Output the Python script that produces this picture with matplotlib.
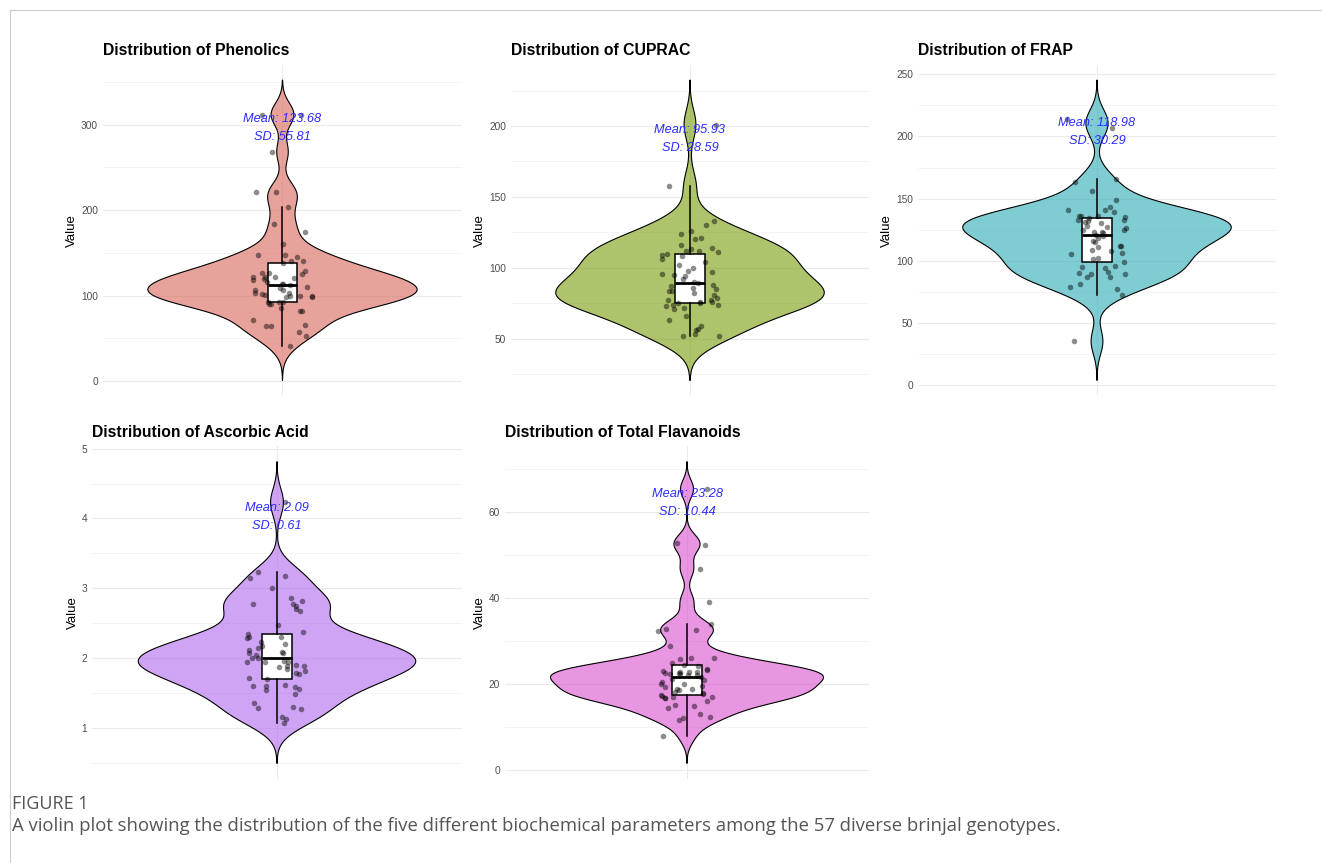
import numpy as np
import matplotlib
matplotlib.use('Agg')
import matplotlib.pyplot as plt
from matplotlib.ticker import MultipleLocator
from matplotlib.colors import to_rgba
from matplotlib.lines import Line2D

plt.rcParams['font.family'] = ['Liberation Sans', 'DejaVu Sans']

# values (57 genotypes per trait)
phenolics = [41, 53, 57, 64, 64, 66, 71, 82, 82, 85, 90, 90, 92, 92, 93, 98, 98, 99, 99, 99,
             101, 102, 103, 103, 106, 107, 109, 110, 112, 113, 114, 116, 118, 120, 121, 122, 122, 122, 125, 127,
             127, 129, 138, 140, 141, 145, 147, 147, 160, 175, 184, 204, 221, 221, 268, 312, 312]
cuprac = [52, 52, 53, 56, 57, 59, 63, 66, 71, 72, 73, 74, 74, 75, 75, 76, 76, 77, 77, 79,
          81, 82, 84, 84, 85, 86, 87, 88, 89, 90, 92, 94, 95, 96, 97, 98, 100, 102, 104, 106,
          108, 109, 110, 111, 112, 112, 113, 114, 116, 120, 121, 124, 126, 130, 133, 158, 201]
frap = [214, 207, 166, 163, 156, 149, 141, 141, 139, 136, 143, 136, 136, 134, 133, 132, 133, 130, 128, 125,
        125, 123, 126, 118, 111, 112, 108, 123, 116, 112, 109, 106, 105, 101, 102, 99, 95, 96, 91, 87,
        94, 89, 87, 89, 90, 79, 81, 72, 77, 35, 120, 121, 122, 127, 131, 135, 115]
ascorbic = [4.23, 3.17, 3.23, 3.15, 3.01, 2.77, 2.75, 2.86, 2.77, 2.82, 2.71, 2.68, 2.47, 2.38, 2.30, 2.35,
            2.29, 2.17, 2.24, 2.15, 2.31, 2.12, 2.08, 2.04, 1.95, 1.94, 1.94, 1.89, 1.88, 1.90, 1.89, 1.96,
            2.01, 2.09, 2.08, 1.79, 1.82, 1.78, 1.72, 1.70, 1.61, 1.61, 1.62, 1.59, 1.54, 1.56, 1.49, 1.36,
            1.30, 1.27, 1.29, 1.16, 1.13, 1.08, 2.00, 1.85, 2.20]
flavanoids = [65.3, 52.3, 52.8, 46.7, 39.1, 33.8, 32.6, 32.2, 32.4, 28.7, 26.0, 25.9, 25.8, 24.8, 24.4,
              22.6, 22.9, 22.3, 22.5, 22.1, 23.1, 22.7, 22.5, 22.6, 22.3, 21.0, 18.8, 19.8, 20.4, 19.4,
              18.7, 18.1, 17.3, 17.9, 19.2, 16.7, 16.7, 17.1, 16.9, 16.9, 15.1, 15.9, 14.8, 14.4, 11.9,
              12.2, 11.5, 13.0, 7.8, 21.5, 20.8, 23.5, 24.0, 18.5, 20.0, 22.0, 17.5]

traits = ['Phenolics', 'CUPRAC', 'FRAP', 'Ascorbic Acid', 'Total Flavanoids']
means = [123.68, 95.93, 118.98, 2.09, 23.28]
sds = [55.81, 28.59, 30.29, 0.61, 10.44]
tick_step = [100, 50, 50, 1, 20]
fills = ['#DA645A', '#789D0A', '#2AACB6', '#B167ED', '#D94ED0']
all_vals = [phenolics, cuprac, frap, ascorbic, flavanoids]

# axes boxes in pixels: left, top, right, bottom
W, H = 1322, 863
boxes = [(103, 65, 462, 395.5), (511, 65, 869, 395.5), (918, 65, 1276, 395.5),
         (92, 446.5, 462, 778.5), (505, 446.5, 869, 778.5)]

fig = plt.figure(figsize=(W / 100, H / 100), dpi=100)
rng = np.random.default_rng(7)

for i in range(5):
    v = np.array(all_vals[i], dtype=float)
    l, t, r, b = boxes[i]
    ax = fig.add_axes([l / W, 1 - b / H, (r - l) / W, (b - t) / H])

    # gaussian kde with R's bw.nrd0, not trimmed (3 bw beyond data)
    q1, q3 = np.percentile(v, [25, 75])
    bw = 0.9 * min(v.std(ddof=1), (q3 - q1) / 1.34) * len(v) ** -0.2
    y = np.linspace(v.min() - 3 * bw, v.max() + 3 * bw, 512)
    dens = np.exp(-0.5 * ((y[:, None] - v[None, :]) / bw) ** 2).sum(axis=1)
    w = dens / dens.max() * 0.45
    xs = np.concatenate([1 - w, (1 + w)[::-1]])
    ys = np.concatenate([y, y[::-1]])
    ax.fill(xs, ys, facecolor=to_rgba(fills[i], 0.6), edgecolor='black', lw=0.8, zorder=2)

    ax.boxplot([v], positions=[1], widths=0.1, patch_artist=True, showfliers=False, showcaps=False,
               boxprops=dict(facecolor='white', edgecolor='black', lw=1.1),
               medianprops=dict(color='black', lw=2.0),
               whiskerprops=dict(color='black', lw=1.1), zorder=3)

    jx = 1 + rng.uniform(-0.1, 0.1, len(v))
    ax.scatter(jx, v, s=16, color='black', alpha=0.45, lw=0, zorder=4)

    ax.text(1, v.max() * 0.95, 'Mean: %.2f\nSD: %.2f' % (means[i], sds[i]), color='#2c2cff',
            style='italic', fontsize=9.2, ha='center', va='center', linespacing=1.65, zorder=5)

    span = y[-1] - y[0]
    ax.set_ylim(y[0] - 0.05 * span, y[-1] + 0.05 * span)
    ax.set_xlim(0.4, 1.6)
    ax.set_xticks([1])
    ax.set_xticklabels([''])
    ax.yaxis.set_major_locator(MultipleLocator(tick_step[i]))
    ax.yaxis.set_minor_locator(MultipleLocator(tick_step[i] / 2))
    ax.grid(which='major', color='#EBEBEB', lw=0.8)
    ax.grid(which='minor', axis='y', color='#F2F2F2', lw=0.6)
    ax.set_axisbelow(True)
    for s in ax.spines.values():
        s.set_visible(False)
    ax.tick_params(which='both', length=0, labelsize=7.3, labelcolor='#4D4D4D', pad=3.6)
    ax.set_ylabel('Value', fontsize=9.5, labelpad=2)
    ax.set_title('Distribution of ' + traits[i], loc='left', fontsize=11.3, fontweight='bold', pad=7)

# page frame and caption
fig.add_artist(Line2D([9.5 / W, 1], [1 - 10.5 / H, 1 - 10.5 / H], color='#CCCCCC', lw=0.8))
fig.add_artist(Line2D([9.5 / W, 9.5 / W], [0, 1 - 10.5 / H], color='#CCCCCC', lw=0.8))
fig.text(12 / W, 1 - 804 / H, 'FIGURE 1', family='Open Sans', fontsize=13, color='#555555',
         fontweight='medium', va='center')
fig.text(12 / W, 1 - 826 / H, 'A violin plot showing the distribution of the five different biochemical '
         'parameters among the 57 diverse brinjal genotypes.', family='Open Sans', fontsize=13.3,
         color='#555555', va='center')

plt.savefig('out.png', dpi=100)
